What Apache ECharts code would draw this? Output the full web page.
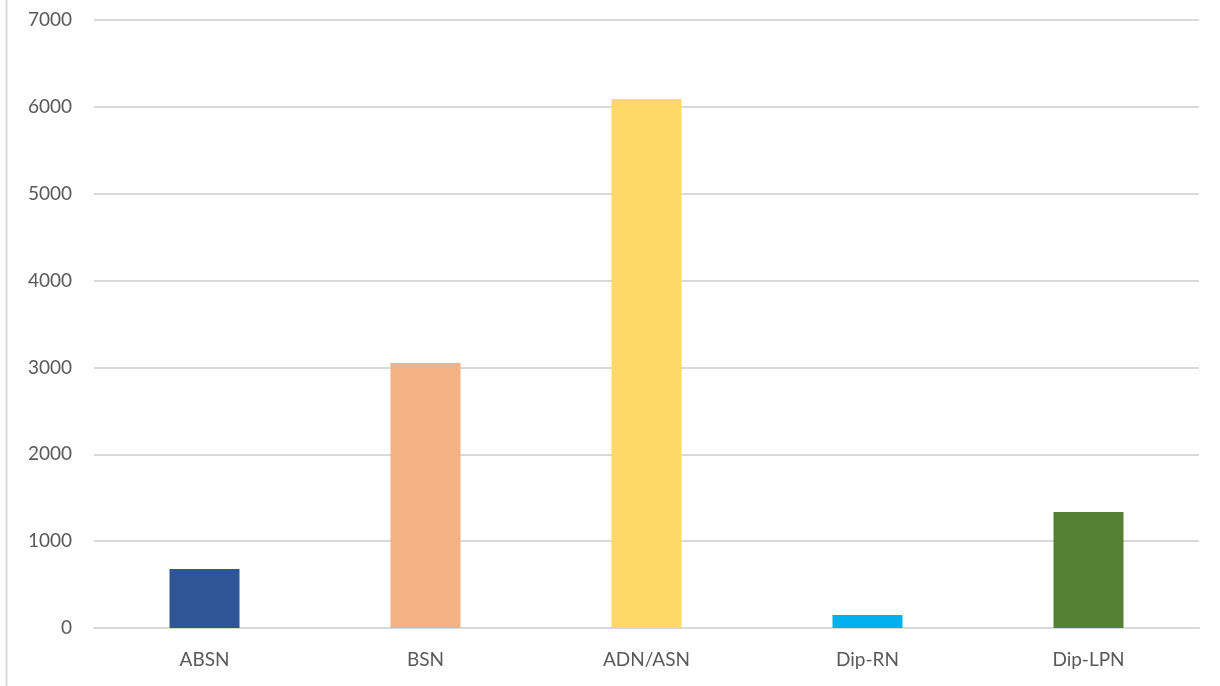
<!DOCTYPE html>
<html>
<head>
<meta charset="utf-8">
<script src="https://cdn.jsdelivr.net/npm/echarts@6/dist/echarts.min.js"></script>
<style>
  html, body { margin: 0; padding: 0; background: #fff; }
  #chart { width: 1220px; height: 686px; }
</style>
</head>
<body>
<div id="chart"></div>
<script>
// Programme categories and their counts
const categories = ['ABSN', 'BSN', 'ADN/ASN', 'Dip-RN', 'Dip-LPN'];
const counts = [680, 3050, 6090, 150, 1335];
const barColors = ['#2F5597', '#F4B183', '#FFD966', '#00B0F0', '#548235'];
const yTicks = { min: 0, max: 7000, interval: 1000 };

const chart = echarts.init(document.getElementById('chart'));
chart.setOption({
  animation: false,
  textStyle: { fontFamily: 'Lato, "Open Sans", sans-serif' },
  graphic: [{
    type: 'line',
    shape: { x1: 6.5, y1: 0, x2: 6.5, y2: 686 },
    style: { stroke: '#d9d9d9', lineWidth: 2 }
  }],
  grid: { left: 94, right: 21, top: 20, bottom: 58 },
  xAxis: {
    type: 'category',
    data: categories,
    axisLine: { lineStyle: { color: '#d9d9d9', width: 2 } },
    axisTick: { show: false },
    axisLabel: { color: '#595959', fontSize: 19, margin: 22 }
  },
  yAxis: {
    type: 'value',
    min: yTicks.min,
    max: yTicks.max,
    interval: yTicks.interval,
    axisLine: { show: false },
    axisTick: { show: false },
    splitLine: { lineStyle: { color: '#d9d9d9', width: 2 } },
    axisLabel: { color: '#595959', fontSize: 19, margin: 22, formatter: v => String(v) }
  },
  series: [{
    type: 'bar',
    data: counts.map((v, i) => ({ value: v, itemStyle: { color: barColors[i] } })),
    barWidth: 70
  }]
});
</script>
</body>
</html>
